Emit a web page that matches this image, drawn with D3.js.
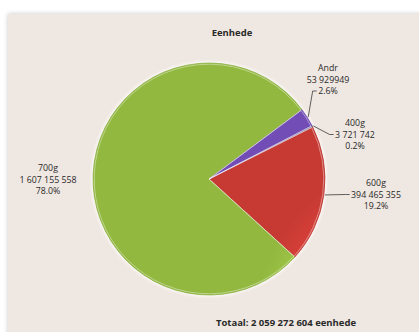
<!DOCTYPE html>
<html>
<head>
<meta charset="utf-8">
<script src="https://cdn.jsdelivr.net/npm/d3@7/dist/d3.min.js"></script>
<style>
  html, body { margin: 0; padding: 0; background: #ffffff; }
  svg { display: block; }
  text { font-family: "Open Sans", "Liberation Sans", sans-serif; fill: #2a2a2a; }
</style>
</head>
<body>
<svg id="chart" width="419" height="332"></svg>
<script>
// Units sold per pack size
const categories = ["400g", "600g", "700g", "Andr"];
const units = [3721742, 394465355, 1607155558, 53929949];
const unitLabels = ["3 721 742", "394 465 355", "1 607 155 558", "53 929949"];
const shareLabels = ["0.2%", "19.2%", "78.0%", "2.6%"];
const colours = ["#4f81bd", "#de413a", "#a3cd47", "#8056cb"];
const title = "Eenhede";
const totalLabel = "Totaal: 2 059 272 604 eenhede";

const svg = d3.select("#chart");
const W = 419, H = 332;
const cx = 209, cy = 179, R = 116;

const defs = svg.append("defs");

// soft shadow behind the panel
const panelShadow = defs.append("filter").attr("id", "panelShadow")
  .attr("color-interpolation-filters", "sRGB")
  .attr("x", "-5%").attr("y", "-5%").attr("width", "110%").attr("height", "110%");
panelShadow.append("feGaussianBlur").attr("in", "SourceAlpha").attr("stdDeviation", 2.5);
panelShadow.append("feComponentTransfer").append("feFuncA").attr("type", "linear").attr("slope", 0.22);
const pm = panelShadow.append("feMerge");
pm.append("feMergeNode");
pm.append("feMergeNode").attr("in", "SourceGraphic");

// blur for the halo round the pie
const halo = defs.append("filter").attr("id", "halo")
  .attr("x", "-10%").attr("y", "-10%").attr("width", "120%").attr("height", "120%");
halo.append("feGaussianBlur").attr("stdDeviation", 1.6);

// panel
svg.append("rect")
  .attr("x", 8).attr("y", 14).attr("width", W - 8 + 10).attr("height", H - 14 + 10)
  .attr("fill", "#efe7e1")
  .attr("filter", "url(#panelShadow)");

// shaded fill per slice colour
colours.forEach((c, i) => {
  const base = d3.color(c);
  const g = defs.append("radialGradient")
    .attr("id", "grad" + i)
    .attr("gradientUnits", "userSpaceOnUse")
    .attr("cx", cx).attr("cy", cy - R * 0.3)
    .attr("fx", cx).attr("fy", cy - R * 0.4)
    .attr("r", R * 1.4);
  g.append("stop").attr("offset", "0%").attr("stop-color", base.brighter(0.15));
  g.append("stop").attr("offset", "75%").attr("stop-color", base);
  g.append("stop").attr("offset", "100%").attr("stop-color", base.darker(0.3));
});

const pie = d3.pie()
  .sort(null)
  .value(d => d)
  .startAngle(62.7 * Math.PI / 180)
  .endAngle(62.7 * Math.PI / 180 + 2 * Math.PI);

const arcs = pie(units);
const arc = d3.arc().innerRadius(0).outerRadius(R);

const pieG = svg.append("g")
  .attr("transform", `translate(${cx},${cy})`);

// white halo behind the slices
pieG.append("circle")
  .attr("r", R + 1.5)
  .attr("fill", "#ffffff")
  .attr("opacity", 0.9)
  .attr("filter", "url(#halo)");

pieG.selectAll("path.slice")
  .data(arcs)
  .join("path")
  .attr("class", "slice")
  .attr("d", arc)
  .attr("fill", (d, i) => `url(#grad${i})`)
  .attr("stroke", (d, i) => d3.color(colours[i]).darker(0.5))
  .attr("stroke-width", 0.7)
  .attr("stroke-linejoin", "round");

// light bevel along the slice edges
pieG.selectAll("path.bevel")
  .data(arcs)
  .join("path")
  .attr("class", "bevel")
  .attr("d", d3.arc().innerRadius(0).outerRadius(R - 1.2))
  .attr("fill", "none")
  .attr("stroke", "rgba(255,255,255,0.4)")
  .attr("stroke-width", 1);

// title and total
svg.append("text")
  .attr("x", 232).attr("y", 35.5)
  .attr("text-anchor", "middle")
  .attr("font-size", 9.5).attr("font-weight", "bold")
  .text(title);

svg.append("text")
  .attr("x", 286).attr("y", 326)
  .attr("text-anchor", "middle")
  .attr("font-size", 9.5).attr("font-weight", "bold")
  .text(totalLabel);

// data labels: centre x, first baseline, line the leader attaches to
const labelLayout = {
  "400g": { x: 355, y: 126, link: 1 },
  "600g": { x: 376, y: 186, link: 1 },
  "700g": { x: 48, y: 171, link: null },
  "Andr": { x: 328, y: 71, link: 2 }
};
const lineGap = 11.5;

arcs.forEach((a, i) => {
  const lay = labelLayout[categories[i]];
  const lines = [categories[i], unitLabels[i], shareLabels[i]];
  const t = svg.append("text")
    .attr("text-anchor", "middle")
    .attr("font-size", 8.8);
  const spans = lines.map((s, k) =>
    t.append("tspan").attr("x", lay.x).attr("y", lay.y + k * lineGap).text(s));

  if (lay.link !== null) {
    const span = spans[lay.link].node();
    const w = span.getComputedTextLength();
    const tx = lay.x - w / 2 - 1.5;
    const ty = lay.y + lay.link * lineGap - 3;
    const mid = (a.startAngle + a.endAngle) / 2;
    const sx = cx + (R + 1) * Math.sin(mid);
    const sy = cy - (R + 1) * Math.cos(mid);
    svg.append("polyline")
      .attr("points", [[sx, sy], [tx - 4, ty], [tx, ty]].map(p => p.join(",")).join(" "))
      .attr("fill", "none")
      .attr("stroke", "#3a3a3a")
      .attr("stroke-width", 0.8);
  }
});
</script>
</body>
</html>
